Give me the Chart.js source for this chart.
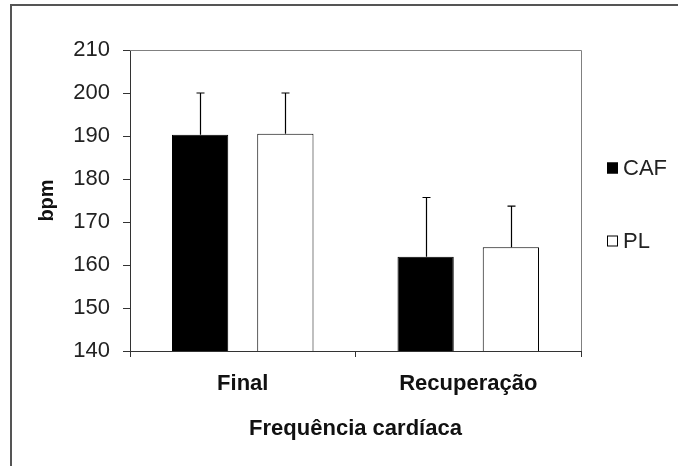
<!DOCTYPE html>
<html>
<head>
<meta charset="utf-8">
<script src="https://cdn.jsdelivr.net/npm/chart.js@4"></script>
<style>
  html, body { margin: 0; padding: 0; background: #fff; }
  #wrap { width: 678px; height: 466px; }
</style>
</head>
<body>
<div id="wrap"><canvas id="chart" width="678" height="466"></canvas></div>
<script>
const categories = ['Final', 'Recuperação'];
const seriesNames = ['CAF', 'PL'];
const cafValues = [190.3, 161.9];
const cafErrors = [9.7, 13.8];
const plValues = [190.5, 164.1];
const plErrors = [9.5, 9.6];
const yTicks = [140, 150, 160, 170, 180, 190, 200, 210];

const fontFamily = "'Liberation Sans', Arial, sans-serif";
const errors = [cafErrors, plErrors];

// error bars (upward only, with cap)
const errorBars = {
    id: 'errorBars',
    afterDatasetsDraw(chart) {
        const ctx = chart.ctx;
        const y = chart.scales.y;
        ctx.save();
        ctx.strokeStyle = '#000';
        ctx.lineWidth = 1.2;
        chart.data.datasets.forEach((ds, i) => {
            const meta = chart.getDatasetMeta(i);
            meta.data.forEach((bar, j) => {
                const top = y.getPixelForValue(ds.data[j] + errors[i][j]);
                const x = Math.round(bar.x) + 0.5;
                ctx.beginPath();
                ctx.moveTo(x, bar.y);
                ctx.lineTo(x, top);
                ctx.moveTo(x - 4, top);
                ctx.lineTo(x + 4, top);
                ctx.stroke();
            });
        });
        ctx.restore();
    }
};

// plot frame (top + right), outer frame, legend at right
const decorations = {
    id: 'decorations',
    beforeDatasetsDraw(chart) {
        const ctx = chart.ctx;
        const a = chart.chartArea;
        ctx.save();
        ctx.strokeStyle = '#808080';
        ctx.lineWidth = 1;
        ctx.beginPath();
        ctx.moveTo(a.left, a.top + 0.5);
        ctx.lineTo(a.right + 0.5, a.top + 0.5);
        ctx.lineTo(a.right + 0.5, a.bottom);
        ctx.stroke();
        ctx.restore();
    },
    afterDraw(chart) {
        const ctx = chart.ctx;
        ctx.save();
        ctx.strokeStyle = '#555';
        ctx.lineWidth = 2;
        ctx.beginPath();
        ctx.moveTo(678, 5);
        ctx.lineTo(11, 5);
        ctx.lineTo(11, 466);
        ctx.stroke();

        const legendY = [168, 241];
        ctx.font = '22px ' + fontFamily;
        ctx.textBaseline = 'middle';
        chart.data.datasets.forEach((ds, i) => {
            const cy = legendY[i];
            ctx.fillStyle = ds.backgroundColor;
            ctx.fillRect(607, cy - 5.5, 11, 11);
            ctx.strokeStyle = '#000';
            ctx.lineWidth = 1;
            ctx.strokeRect(607.5, cy - 5, 10, 10);
            ctx.fillStyle = '#222';
            ctx.fillText(ds.label, 623, cy + 1);
        });
        ctx.restore();
    }
};

new Chart(document.getElementById('chart'), {
    type: 'bar',
    data: {
        labels: categories,
        datasets: [{
            label: seriesNames[0],
            data: cafValues,
            backgroundColor: '#000',
            borderColor: '#000',
            borderWidth: 1
        }, {
            label: seriesNames[1],
            data: plValues,
            backgroundColor: '#fff',
            borderColor: '#000',
            borderWidth: 1
        }]
    },
    options: {
        responsive: false,
        animation: false,
        layout: { padding: { top: 50, right: 97, left: 0, bottom: 0 } },
        barPercentage: 0.66,
        categoryPercentage: 0.756,
        plugins: {
            legend: { display: false },
            tooltip: { enabled: false }
        },
        scales: {
            x: {
                afterFit: s => { s.height = 115; },
                grid: {
                    offset: true,
                    drawOnChartArea: false,
                    tickLength: 6,
                    color: '#333'
                },
                border: { color: '#333', width: 1 },
                ticks: {
                    padding: 14,
                    color: '#111',
                    font: { family: fontFamily, size: 22, weight: 'bold' }
                },
                title: {
                    display: true,
                    text: 'Frequência cardíaca',
                    color: '#111',
                    font: { family: fontFamily, size: 22, weight: 'bold' },
                    padding: { top: 4, bottom: 24 }
                }
            },
            y: {
                min: yTicks[0],
                max: yTicks[yTicks.length - 1],
                afterFit: s => { s.width = 130; },
                afterBuildTicks: s => { s.ticks = yTicks.map(v => ({ value: v })); },
                grid: {
                    drawOnChartArea: false,
                    tickLength: 7,
                    color: '#333'
                },
                border: { color: '#333', width: 1 },
                ticks: {
                    padding: 13,
                    color: '#222',
                    font: { family: fontFamily, size: 22 }
                },
                title: {
                    display: true,
                    text: 'bpm',
                    color: '#111',
                    font: { family: fontFamily, size: 20, weight: 'bold' },
                    padding: { top: 35, bottom: 0 }
                }
            }
        }
    },
    plugins: [errorBars, decorations]
});
</script>
</body>
</html>
